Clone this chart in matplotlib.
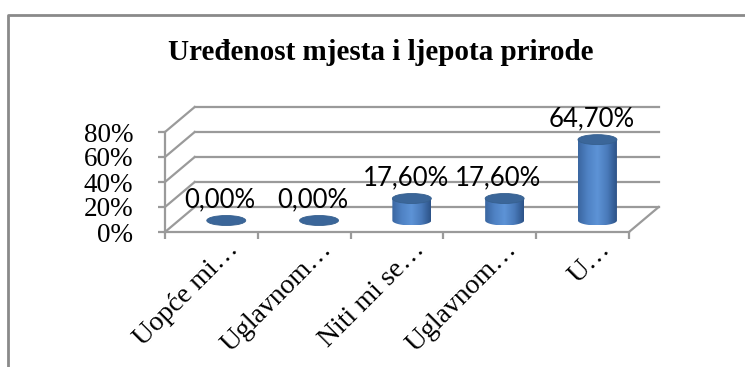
import numpy as np
import matplotlib.pyplot as plt
from matplotlib.patches import Polygon, Ellipse
from matplotlib.colors import LinearSegmentedColormap

plt.rcParams['font.family'] = ['Liberation Serif', 'DejaVu Serif']

# podaci
categories = ['Uopće mi…', 'Uglavnom…', 'Niti mi se…', 'Uglavnom…', 'U…']
values = [0.0, 0.0, 17.6, 17.6, 64.7]
value_labels = ['0,00%', '0,00%', '17,60%', '17,60%', '64,70%']
y_ticks = [0, 20, 40, 60, 80]
y_tick_labels = ['0%', '20%', '40%', '60%', '80%']

title = 'Uređenost mjesta i ljepota prirode'

fig = plt.figure(figsize=(7.45, 3.67), dpi=100)
W, H = 745, 367

# okvir grafikona
frame = fig.add_axes([0, 0, 1, 1])
frame.set_xlim(0, W)
frame.set_ylim(H, 0)
frame.axis('off')
frame.plot([8, 8, W + 5], [H + 5, 15, 15], color='#8a8a8a', lw=2)

fig.text(381 / W, 1 - 53 / H, title, ha='center', va='center',
         weight='bold', fontsize=21)

# prednja ravnina osi (0-5 kategorija, 0-80 %)
ax = fig.add_axes([165 / W, (H - 232) / H, 464 / W, 100 / H])
ax.set_xlim(0, len(categories))
ax.set_ylim(0, 80)
ax.patch.set_visible(False)

grid_c = '#9a9a9a'
depth_x, depth_y = 0.32, 20.0   # pomak stražnjeg zida
n = len(categories)

# stražnji zid i lijevi zid
for t in y_ticks:
    ax.plot([depth_x, n + depth_x], [t + depth_y, t + depth_y], color=grid_c,
            lw=1.6, clip_on=False, zorder=1)
    ax.plot([0, depth_x], [t, t + depth_y], color=grid_c, lw=1.6,
            clip_on=False, zorder=1)
# desni rub poda
ax.plot([n, n + depth_x], [0, depth_y], color=grid_c, lw=1.6, clip_on=False, zorder=1)

for s in ['top', 'right']:
    ax.spines[s].set_visible(False)
for s in ['left', 'bottom']:
    ax.spines[s].set_color(grid_c)
    ax.spines[s].set_linewidth(1.6)

ax.set_yticks(y_ticks, labels=y_tick_labels, fontsize=19.5)
ax.set_xticks(np.arange(n + 1))
ax.set_xticklabels([])
ax.tick_params(axis='both', color=grid_c, width=1.6, length=5, direction='out')
ax.tick_params(axis='y', pad=18)

# valjci
cmap = LinearSegmentedColormap.from_list(
    'cyl', ['#3a66a0', '#4f82c4', '#5d93d6', '#4a7bbb', '#2c5287'])
grad = np.linspace(0, 1, 256).reshape(1, -1)
bw = 0.42          # širina valjka
eh = 8.0           # visina elipse
base = 0.46 * depth_y
top_c = '#3b6699'

for i, (v, lab) in enumerate(zip(values, value_labels)):
    cx = i + 0.5 + depth_x / 2
    top = base + v
    if v > 0:
        t = np.linspace(np.pi, 2 * np.pi, 60)
        xs = cx + bw / 2 * np.cos(t)
        ys = base + eh / 2 * np.sin(t)
        pts = np.column_stack([np.r_[cx - bw / 2, xs, cx + bw / 2],
                               np.r_[top, ys, top]])
        body = Polygon(pts, closed=True, facecolor='none', edgecolor='none')
        ax.add_patch(body)
        im = ax.imshow(grad, cmap=cmap, aspect='auto', zorder=3,
                       extent=[cx - bw / 2, cx + bw / 2, base - eh / 2, top])
        im.set_clip_path(body)
    ax.add_patch(Ellipse((cx, top), bw, eh, facecolor=top_c,
                         edgecolor='#36608f', lw=0.6, zorder=4))
    ax.annotate(lab, xy=(cx, top), xytext=(-4.5, 15), textcoords='offset points',
                ha='center', va='center', fontsize=18.5, family='Lato',
                zorder=5, annotation_clip=False)

ax.set_xlim(0, n)
ax.set_ylim(0, 80)

# nazivi kategorija
for i, cat in enumerate(categories):
    ax.annotate(cat, xy=(i + 0.5, 0), xytext=(17, -10), textcoords='offset points',
                rotation=45, rotation_mode='anchor', ha='right', va='center',
                fontsize=20, annotation_clip=False)

fig.savefig('out.png', dpi=100)
